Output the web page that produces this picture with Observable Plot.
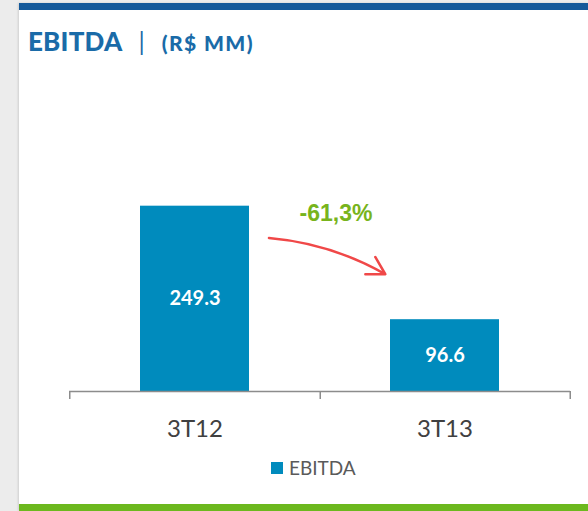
<!DOCTYPE html>
<html>
<head>
<meta charset="utf-8">
<script src="https://cdn.jsdelivr.net/npm/d3@7"></script>
<script src="https://cdn.jsdelivr.net/npm/@observablehq/plot@0.6"></script>
<style>
  html, body { margin: 0; padding: 0; }
  body { width: 588px; height: 511px; overflow: hidden; background: #ececec; }
  #wrap { position: relative; width: 588px; height: 511px; background: #ececec; }
  #panel { position: absolute; left: 19px; top: 3px; width: 569px; height: 508px; background: #fff; box-shadow: -1px 0 2px rgba(0,0,0,0.12); }
  #topbar { position: absolute; left: 19px; top: 3px; width: 569px; height: 7px; background: #14599a; }
  #bottombar { position: absolute; left: 19px; top: 504px; width: 569px; height: 7px; background: #6cb81e; }
  #title { position: absolute; left: 28px; top: 25px; font-family: Lato, "DejaVu Sans", sans-serif; font-weight: 900; color: #1a6ba8; white-space: nowrap; }
  #title .main { font-size: 26px; letter-spacing: 0.2px; }
  #title .sep { font-size: 25px; margin: 0 17px 0 16px; font-weight: 400; }
  #title .unit { font-size: 21px; letter-spacing: 1.4px; }
  #chart { position: absolute; left: 0; top: 70px; }
  #legend { position: absolute; left: 271px; top: 456px; font-family: Lato, "DejaVu Sans", sans-serif; font-size: 19px; color: #5a5a5a; display: flex; align-items: center; }
  #legend .sw { width: 12px; height: 12px; background: #008bbd; margin-right: 6px; }
</style>
</head>
<body>
<div id="wrap">
  <div id="panel"></div>
  <div id="topbar"></div>
  <div id="bottombar"></div>
  <div id="title"><span class="main">EBITDA</span><span class="sep">|</span><span class="unit">(R$ MM)</span></div>
  <div id="chart"></div>
  <div id="legend"><div class="sw"></div><span id="legendText"></span></div>
</div>
<script>
const categories = ["3T12", "3T13"];
const values = [249.3, 96.6];
const valueLabels = ["249.3", "96.6"];
const seriesName = "EBITDA";
const changeLabel = "-61,3%";

const barColor = "#008bbd";
const data = categories.map((c, i) => ({cat: c, value: values[i], label: valueLabels[i]}));

const W = 588, H = 380, mL = 69, mR = 18;
const step = (W - mL - mR) / categories.length;
const boundaries = [
  {cat: categories[0], dx: -step / 2},
  {cat: categories[0], dx: step / 2},
  {cat: categories[1], dx: step / 2}
];

const chart = Plot.plot({
  width: W,
  height: H,
  marginLeft: mL,
  marginRight: mR,
  marginTop: 98,
  marginBottom: 59,
  style: {background: "transparent", overflow: "visible"},
  x: {domain: categories, paddingInner: 0.564, paddingOuter: 0.282, axis: null},
  y: {domain: [0, 300], axis: null},
  marks: [
    Plot.barY(data, {x: "cat", y: "value", fill: barColor}),
    Plot.ruleY([0], {stroke: "#8c8c8c", strokeWidth: 1.5}),
    ...boundaries.map(b => Plot.ruleX([b], {x: "cat", y1: 0, y2: 0, insetBottom: -8, dx: b.dx, stroke: "#8c8c8c", strokeWidth: 1.5})),
    Plot.axisX({tickSize: 0, tickPadding: 28, fontSize: 24, fill: "#404040", fontFamily: "Lato, 'DejaVu Sans', sans-serif", fontWeight: 400, label: null}),
    Plot.text(data, {x: "cat", y: d => d.value / 2, text: "label", fill: "white", fontSize: 20, fontWeight: "bold", fontFamily: "Lato, 'DejaVu Sans', sans-serif"}),
    Plot.text([changeLabel], {y: [values[0]], dy: 7, dx: 16, text: d => d, fill: "#78b41c", fontSize: 23, fontWeight: "bold", fontFamily: "'Liberation Sans', Arial, sans-serif"}),
    Plot.arrow([0], {
      x1: () => categories[0], x2: () => categories[1],
      y1: () => values[0] * 0.81, y2: () => values[1],
      insetStart: 74, insetEnd: 75, bend: 27.5,
      stroke: "#f04848", strokeWidth: 2.5, headLength: 12
    })
  ]
});
document.getElementById("chart").appendChild(chart);
document.getElementById("legendText").textContent = seriesName;
</script>
</body>
</html>
